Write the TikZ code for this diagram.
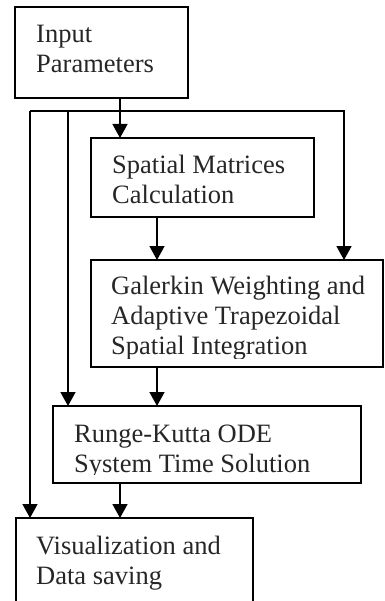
\documentclass[tikz,border=0pt]{standalone}
\usepackage{fontspec}
\setmainfont{Liberation Serif}
\usetikzlibrary{arrows.meta,calc}
\begin{document}
\begin{tikzpicture}[x=1pt,y=1pt,
  box/.style={draw,line width=1.6pt,rectangle,inner sep=0pt,outer sep=0pt,anchor=north west},
  txt/.style={inner sep=0pt,anchor=base west,align=left,font=\fontsize{26.5}{30}\selectfont,text=black!85},
  arr/.style={line width=1.6pt,-{Triangle[length=14pt,width=15pt]}}]
\useasboundingbox (0,0) rectangle (384,-601);
\clip (0,0) rectangle (384,-601);
% boxes
\node[box,minimum width=173pt,minimum height=91pt] (in) at (15,-7) {};
\node[box,minimum width=223pt,minimum height=79pt] (sp) at (91,-138) {};
\node[box,minimum width=292pt,minimum height=107pt] (gal) at (91,-260) {};
\node[box,minimum width=308pt,minimum height=77pt] (rk) at (53,-406) {};
\node[box,minimum width=237pt,minimum height=120pt] (vis) at (16,-518) {};
% texts (anchored at the baseline of the last line)
\node[txt] (tin) at (36,-73) {Input\\Parameters};
\node[txt] (tsp) at (112,-204) {Spatial Matrices\\Calculation};
\begin{scope}
\clip (91,-260) rectangle (383,-358);
\node[txt] (tgal) at (111,-354) {Galerkin Weighting and\\Adaptive Trapezoidal\\Spatial Integration};
\end{scope}
\begin{scope}
\clip (53,-406) rectangle (361,-474);
\node[txt] (trk) at (74,-472) {Runge-Kutta ODE\\System Time Solution};
\end{scope}
\node[txt] (tvis) at (36,-584) {Visualization and\\Data saving};
% columns
\coordinate (xA) at (30,0);
\coordinate (xB) at (68,0);
\coordinate (xC) at (120,0);
\coordinate (xD) at (157,0);
\coordinate (xE) at (344,0);
\coordinate (yH) at (0,-111);
% connectors
\draw[arr] (in.south -| xC) -- (sp.north -| xC);
\draw[arr] (xA |- yH) -- (xE |- yH) -- (gal.north -| xE);
\draw[arr] (xA |- yH) -- (vis.north -| xA);
\draw[arr] (xB |- yH) -- (rk.north -| xB);
\draw[arr] (sp.south -| xD) -- (gal.north -| xD);
\draw[arr] (gal.south -| xD) -- (rk.north -| xD);
\draw[arr] (rk.south -| xC) -- (vis.north -| xC);
\end{tikzpicture}
\end{document}
